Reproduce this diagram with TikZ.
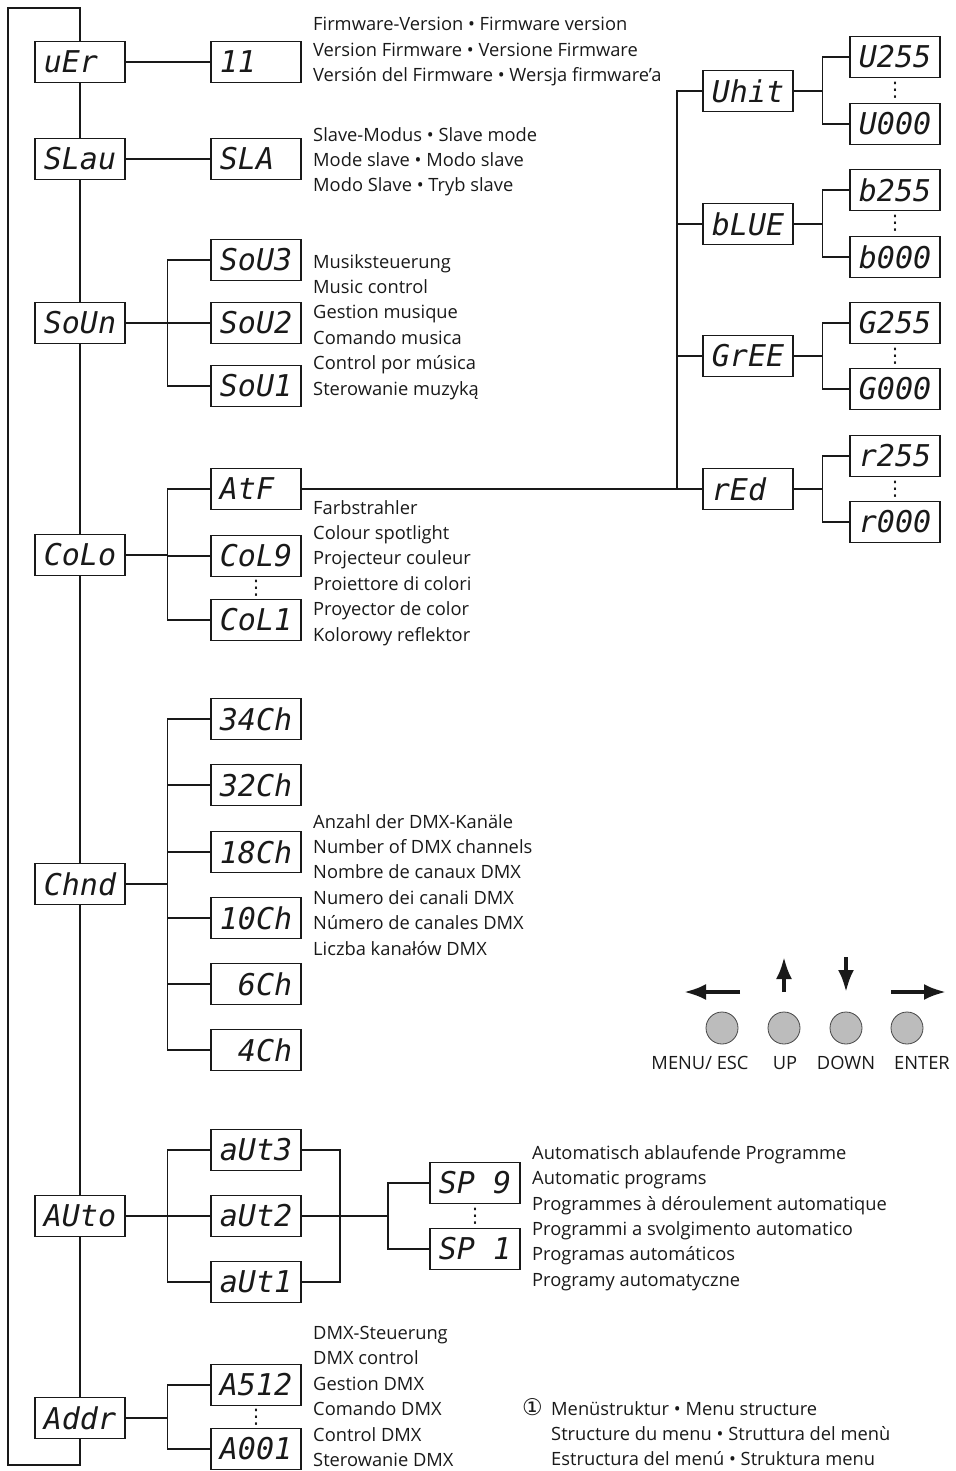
\documentclass[tikz,border=0pt]{standalone}
\usepackage{fontspec}
\setmainfont{Open Sans}
\newfontfamily\segfont{DejaVu Sans Mono}
\newfontfamily\symfont{DejaVu Sans}
\usetikzlibrary{arrows.meta,calc}
\definecolor{MnuInk}{RGB}{25,25,25}
\definecolor{MnuKey}{RGB}{188,188,188}
\definecolor{MnuRim}{RGB}{70,70,70}
\tikzset{
  mnu/disp/.style={
    draw=MnuInk,
    line width=1.1pt,
    fill=white,
    minimum width=90pt,
    minimum height=41pt,
    inner sep=0pt,
    text=MnuInk,
    font=\fontsize{30}{30}\segfont\itshape
  },
  mnu/txt/.style={
    anchor=north west,
    inner sep=0pt,
    align=left,
    text=MnuInk,
    font=\fontsize{18.3}{25.4}\selectfont
  },
  mnu/wire/.style={line width=1.1pt, draw=MnuInk},
  mnu/dots/.style={inner sep=0pt, text=MnuInk, font=\fontsize{20}{20}\symfont},
  mnu/key/.style={circle, draw=MnuRim, line width=0.8pt, fill=MnuKey, minimum size=32pt, inner sep=0pt},
  mnu/keylabel/.style={inner sep=0pt, text=MnuInk, font=\fontsize{18.3}{20}\selectfont},
  mnu/keyarrow/.style={-{Latex[length=22pt,width=16pt]}, line width=3.8pt, draw=MnuInk}
}

\begin{document}
\begin{tikzpicture}[x=1pt,y=-1pt]
  \useasboundingbox (0,0) rectangle (955,1471);

  % main menu column
  \node[mnu/disp] (ver)  at (80,62)   {uEr\phantom{0}};
  \node[mnu/disp] (slav) at (80,159)  {SLau};
  \node[mnu/disp] (soun) at (80,323)  {SoUn};
  \node[mnu/disp] (colo) at (80,555)  {CoLo};
  \node[mnu/disp] (chnd) at (80,884)  {Chnd};
  \node[mnu/disp] (auto) at (80,1216) {AUto};
  \node[mnu/disp] (addr) at (80,1418) {Addr};

  % second level
  \node[mnu/disp] (fw)   at (256,62)   {11\phantom{00}};
  \node[mnu/disp] (sla)  at (256,159)  {SLA\phantom{0}};
  \node[mnu/disp] (sou3) at (256,260)  {SoU3};
  \node[mnu/disp] (sou2) at (256,323)  {SoU2};
  \node[mnu/disp] (sou1) at (256,386)  {SoU1};
  \node[mnu/disp] (atf)  at (256,489)  {AtF\phantom{0}};
  \node[mnu/disp] (col9) at (256,556)  {CoL9};
  \node[mnu/disp] (col1) at (256,620)  {CoL1};
  \node[mnu/disp] (ch34) at (256,719)  {34Ch};
  \node[mnu/disp] (ch32) at (256,785)  {32Ch};
  \node[mnu/disp] (ch18) at (256,852)  {18Ch};
  \node[mnu/disp] (ch10) at (256,918)  {10Ch};
  \node[mnu/disp] (ch6)  at (256,984)  {\phantom{0}6Ch};
  \node[mnu/disp] (ch4)  at (256,1050) {\phantom{0}4Ch};
  \node[mnu/disp] (aut3) at (256,1150) {aUt3};
  \node[mnu/disp] (aut2) at (256,1216) {aUt2};
  \node[mnu/disp] (aut1) at (256,1282) {aUt1};
  \node[mnu/disp] (a512) at (256,1385) {A512};
  \node[mnu/disp] (a001) at (256,1449) {A001};
  \node[mnu/disp] (sp9)  at (475,1183) {SP\phantom{0}9};
  \node[mnu/disp] (sp1)  at (475,1249) {SP\phantom{0}1};

  % colour channels
  \node[mnu/disp] (whit) at (748,91)  {Uhit};
  \node[mnu/disp] (blue) at (748,224) {bLUE};
  \node[mnu/disp] (gree) at (748,356) {GrEE};
  \node[mnu/disp] (red)  at (748,489) {rEd\phantom{0}};
  \node[mnu/disp] (w255) at (895,57)  {U255};
  \node[mnu/disp] (w000) at (895,124) {U000};
  \node[mnu/disp] (b255) at (895,190) {b255};
  \node[mnu/disp] (b000) at (895,257) {b000};
  \node[mnu/disp] (g255) at (895,323) {G255};
  \node[mnu/disp] (g000) at (895,389) {G000};
  \node[mnu/disp] (r255) at (895,456) {r255};
  \node[mnu/disp] (r000) at (895,522) {r000};

  \node[mnu/dots] (wdots) at ($(w255)!0.5!(w000)$) {⋮};
  \node[mnu/dots] (bdots) at ($(b255)!0.5!(b000)$) {⋮};
  \node[mnu/dots] (gdots) at ($(g255)!0.5!(g000)$) {⋮};
  \node[mnu/dots] (rdots) at ($(r255)!0.5!(r000)$) {⋮};
  \node[mnu/dots] (cdots) at ($(col9)!0.5!(col1)$) {⋮};
  \node[mnu/dots] (sdots) at ($(sp9)!0.5!(sp1)$) {⋮};
  \node[mnu/dots] (adots) at ($(a512)!0.5!(a001)$) {⋮};

  % loop and spine
  \coordinate (loopTL) at (8,8);
  \coordinate (loopBL) at (8,1465);
  \draw[mnu/wire] (ver.north) |- (loopTL) -- (loopBL) -| (addr.south);
  \foreach \a/\b in {ver/slav,slav/soun,soun/colo,colo/chnd,chnd/auto,auto/addr}{
    \draw[mnu/wire] (\a.south) -- (\b.north);
  }
  \draw[mnu/wire] (ver) -- (fw);
  \draw[mnu/wire] (slav) -- (sla);

  % branches
  \foreach \p/\kids in {soun/{sou3,sou2,sou1},colo/{atf,col9,col1},chnd/{ch34,ch32,ch18,ch10,ch6,ch4},auto/{aut3,aut2,aut1},addr/{a512,a001}}{
    \coordinate (\p-j) at ($(\p.east)+(42,0)$);
    \draw[mnu/wire] (\p.east) -- (\p-j);
    \foreach \k in \kids {
      \draw[mnu/wire] (\p-j) |- (\k.west);
    }
  }
  \coordinate (autR) at (340,1216);
  \coordinate (spj) at (388,1216);
  \foreach \a in {aut3,aut2,aut1}{
    \draw[mnu/wire] (\a.east) -| (autR);
  }
  \draw[mnu/wire] (autR) -- (spj);
  \draw[mnu/wire] (spj) |- (sp9.west);
  \draw[mnu/wire] (spj) |- (sp1.west);

  \draw[mnu/wire] (atf) -- (red);
  \coordinate (colj) at (677,489);
  \foreach \c in {whit,blue,gree}{
    \draw[mnu/wire] (colj) |- (\c.west);
  }
  \foreach \c/\hi/\lo in {whit/w255/w000,blue/b255/b000,gree/g255/g000,red/r255/r000}{
    \coordinate (\c-j) at ($(\c.east)+(29,0)$);
    \draw[mnu/wire] (\c.east) -- (\c-j);
    \draw[mnu/wire] (\c-j) |- (\hi.west);
    \draw[mnu/wire] (\c-j) |- (\lo.west);
  }

  % descriptions
  \node[mnu/txt] (fwtxt) at (313,17) {Firmware-Version • Firmware version\\Version Firmware • Versione Firmware\\Versión del Firmware • Wersja firmware'a};
  \node[mnu/txt] (slatxt) at (313,127) {Slave-Modus • Slave mode\\Mode slave • Modo slave\\Modo Slave • Tryb slave};
  \node[mnu/txt] (soutxt) at (313,254) {Musiksteuerung\\Music control\\Gestion musique\\Comando musica\\Control por música\\Sterowanie muzyką};
  \node[mnu/txt] (coltxt) at (313,500) {Farbstrahler\\Colour spotlight\\Projecteur couleur\\Proiettore di colori\\Proyector de color\\Kolorowy reflektor};
  \node[mnu/txt] (chtxt) at (313,814) {Anzahl der DMX-Kanäle\\Number of DMX channels\\Nombre de canaux DMX\\Numero dei canali DMX\\Número de canales DMX\\Liczba kanałów DMX};
  \node[mnu/txt] (sptxt) at (532,1145) {Automatisch ablaufende Programme\\Automatic programs\\Programmes à déroulement automatique\\Programmi a svolgimento automatico\\Programas automáticos\\Programy automatyczne};
  \node[mnu/txt] (dmxtxt) at (313,1326) {DMX-Steuerung\\DMX control\\Gestion DMX\\Comando DMX\\Control DMX\\Sterowanie DMX};
  \node[mnu/txt] (caption) at (522,1401) {\makebox[29pt][l]{\smash{\fontsize{23}{23}\symfont ①}}Menüstruktur • Menu structure\\\hspace*{29pt}Structure du menu • Struttura del menù\\\hspace*{29pt}Estructura del menú • Struktura menu};

  % control keys
  \node[mnu/key] (esc)   at (722,1028) {};
  \node[mnu/key] (up)    at (784,1028) {};
  \node[mnu/key] (down)  at (846,1028) {};
  \node[mnu/key] (enter) at (907,1028) {};
  \node[mnu/keylabel] (escL)   at (700,1063) {MENU/ ESC};
  \node[mnu/keylabel] (upL)    at (785,1063) {UP};
  \node[mnu/keylabel] (downL)  at (846,1063) {DOWN};
  \node[mnu/keylabel] (enterL) at (922,1063) {ENTER};
  \coordinate (escT) at (740,992);   \coordinate (escH) at (684,992);
  \coordinate (upT) at (784,992);    \coordinate (upH) at (784,957);
  \coordinate (downT) at (846,957);  \coordinate (downH) at (846,992);
  \coordinate (enterT) at (891,992); \coordinate (enterH) at (946,992);
  \foreach \k in {esc,up,down,enter}{
    \draw[mnu/keyarrow] (\k T) -- (\k H);
  }
\end{tikzpicture}
\end{document}
